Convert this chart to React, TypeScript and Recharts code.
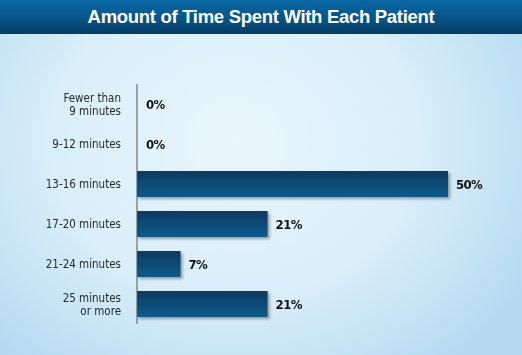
import { BarChart, Bar, XAxis, YAxis, LabelList, Rectangle } from 'recharts';

const categories = [
  'Fewer than\n9 minutes',
  '9-12 minutes',
  '13-16 minutes',
  '17-20 minutes',
  '21-24 minutes',
  '25 minutes\nor more',
];
const shares = [0, 0, 50, 21, 7, 21];

const TITLE = 'Amount of Time Spent With Each Patient';
const NARROW = '"Liberation Sans Narrow", "DejaVu Sans Condensed", "Roboto", sans-serif';

const data = categories.map((name, i) => ({ name, value: shares[i] }));

function CategoryTick({ x, y, payload }: any) {
  const lines = String(payload.value).split('\n');
  const lineH = 13;
  const startY = y - ((lines.length - 1) * lineH) / 2;
  return (
    <g>
      {lines.map((l, i) => (
        <text
          key={i}
          x={x - 8}
          y={startY + i * lineH + 4}
          textAnchor="end"
          fontFamily={NARROW}
          fontSize={11.5}
          fill="#2a2a2a"
        >
          {l}
        </text>
      ))}
    </g>
  );
}

function ValueLabel({ x, y, width, height, value }: any) {
  return (
    <text
      x={x + width + 8}
      y={y + height / 2 + 5}
      fontFamily={NARROW}
      fontWeight={700}
      fontSize={13}
      letterSpacing={-0.6}
      fill="#111"
    >
      {`${value}%`}
    </text>
  );
}

// zero values get a 1px placeholder from minPointSize; don't draw it
function BarShape(props: any) {
  if (!props.value) return <g />;
  return <Rectangle {...props} />;
}

export default function App() {
  return (
    <div
      style={{
        position: 'fixed',
        left: 0,
        top: 0,
        width: 522,
        height: 355,
        overflow: 'hidden',
        background:
          'radial-gradient(ellipse 65% 80% at 45% 40%, #eaf6fd 0%, #d9eef9 55%, #b5daf1 100%)',
      }}
    >
      <div
        style={{
          position: 'absolute',
          left: 0,
          top: 0,
          width: 522,
          height: 34,
          background: 'linear-gradient(to bottom, #0a68a4 0%, #08568a 50%, #053c63 100%)',
          color: '#fff',
          fontFamily: '"Liberation Sans", Arial, sans-serif',
          fontWeight: 700,
          fontSize: 18.5,
          lineHeight: '34px',
          textAlign: 'center',
          letterSpacing: -0.3,
        }}
      >
        {TITLE}
      </div>
      <div style={{ position: 'absolute', left: 0, top: 0 }}>
        <BarChart
          width={522}
          height={355}
          data={data}
          layout="vertical"
          margin={{ top: 84, right: 74, bottom: 31, left: 0 }}
        >
          <defs>
            <linearGradient id="barFill" x1="0" y1="0" x2="0" y2="1">
              <stop offset="0%" stopColor="#083a5f" />
              <stop offset="100%" stopColor="#0d5b8c" />
            </linearGradient>
            <filter id="barShadow" x="-5%" y="-20%" width="115%" height="160%">
              <feDropShadow dx="2" dy="2" stdDeviation="1.5" floodColor="#000" floodOpacity="0.35" />
            </filter>
          </defs>
          <XAxis type="number" domain={[0, 50]} hide />
          <YAxis
            type="category"
            dataKey="name"
            width={137}
            axisLine={{ stroke: '#555', strokeWidth: 1 }}
            tickLine={false}
            tick={<CategoryTick />}
            interval={0}
          />
          <Bar
            dataKey="value"
            barSize={26}
            minPointSize={1}
            fill="url(#barFill)"
            filter="url(#barShadow)"
            shape={<BarShape />}
            isAnimationActive={false}
          >
            <LabelList dataKey="value" content={<ValueLabel />} />
          </Bar>
        </BarChart>
      </div>
    </div>
  );
}
